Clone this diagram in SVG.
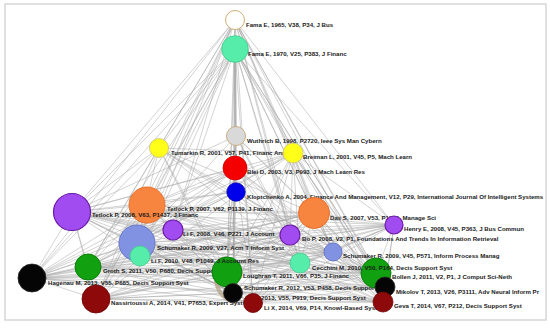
<svg xmlns="http://www.w3.org/2000/svg" width="550" height="328" viewBox="0 0 550 328">
<style>
.lb{font-family:"Liberation Sans",Arial,sans-serif;font-size:6.1px;font-weight:700;fill:#1a1a1a}
.e{fill:none;stroke:#a9a9a9;stroke-width:0.6;stroke-opacity:0.85}
.pu{fill:#a04cf0;stroke:#6c1aa8;stroke-width:1.2}
.or{fill:#f7843f;stroke:#e8722c;stroke-width:1}
.la{fill:#8192e2;stroke:#6877c4;stroke-width:1}
.aq{fill:#56eca9;stroke:#43c98d;stroke-width:0.8}
.gr{fill:#10a010;stroke:#0c800c;stroke-width:1}
.bk{fill:#050505;stroke:#2a2a2a;stroke-width:0.8}
.dr{fill:#8e0a0a;stroke:#6c0505;stroke-width:0.8}
.ye{fill:#ffff1a;stroke:#c8c07a;stroke-width:0.8}
</style>
<rect x="0" y="0" width="550" height="328" fill="#ffffff"/>
<rect x="5" y="4" width="541" height="316" fill="#ffffff" stroke="#d6d6d6" stroke-width="1.5"/>
<g id="connectors">
<path class="e" d="M235 20L72 212M235 20L32 278M235 20L88 267M235 20L96 299M235 20L147 205M235 20L137 243M235 20L140 256M235 20L173 230M235 20L159 148M235 20L227 272M235 20L233 293M235 20L253 303M235 20L300 263M235 20L290 235M235 20L333 252M235 20L314 213M235 20L394 225M235 20L376 273M235 20L385 287M235 20L383 302M235 20L293 153M235 20L236 136"/>
<path class="e" d="M235 49L72 212M235 49L32 278M235 49L88 267M235 49L96 299M235 49L147 205M235 49L137 243M235 49L140 256M235 49L173 230M235 49L159 148M235 49L227 272M235 49L233 293M235 49L253 303M235 49L300 263M235 49L290 235M235 49L333 252M235 49L314 213M235 49L394 225M235 49L376 273M235 49L385 287M235 49L383 302M235 49L293 153M235 49L236 136M235 49L235 168M235 49L236 192M234 49L234 272M236 49L236 168"/>
<path class="e" d="M32 278L72 212M32 278L147 205M32 278L137 243M32 278L88 267M32 278L96 299M32 278L173 230M32 278L140 256M32 278L227 272M32 278L233 293M32 278L253 303M32 278L300 263M32 278L290 235M32 278L333 252M32 278L314 213M32 278L394 225M32 278L376 273M32 278L385 287M32 278L383 302M32 278L159 148M32 278L235 168M32 278L236 192M32 278L293 153"/>
<path class="e" d="M72 212L147 205M72 212L137 243M72 212L173 230M72 212L88 267M72 212L96 299M72 212L140 256M72 212L227 272M72 212L233 293M72 212L253 303M72 212L300 263M72 212L290 235M72 212L333 252M72 212L314 213M72 212L394 225M72 212L376 273M72 212L385 287M72 212L383 302M72 212L159 148M72 212L293 153M72 212L235 168M72 212L236 192M72 212L236 136"/>
<path class="e" d="M147 205L173 230M147 205L137 243M147 205L140 256M147 205L88 267M147 205L96 299M147 205L227 272M147 205L233 293M147 205L253 303M147 205L300 263M147 205L290 235M147 205L333 252M147 205L314 213M147 205L394 225M147 205L376 273M147 205L385 287M147 205L383 302M147 205L293 153M147 205L235 168M147 205L236 192"/>
<path class="e" d="M159 148L137 243M159 148L88 267M159 148L96 299M159 148L227 272M159 148L233 293M159 148L300 263M159 148L290 235M159 148L314 213M159 148L376 273M159 148L385 287M159 148L293 153"/>
<path class="e" d="M293 153L137 243M293 153L88 267M293 153L96 299M293 153L227 272M293 153L233 293M293 153L253 303M293 153L300 263M293 153L290 235M293 153L333 252M293 153L314 213M293 153L394 225M293 153L376 273M293 153L385 287M293 153L383 302"/>
<path class="e" d="M235 168L137 243M235 168L88 267M235 168L96 299M235 168L227 272M235 168L233 293M235 168L253 303M235 168L300 263M235 168L290 235M235 168L376 273M235 168L385 287M235 168L383 302"/>
<path class="e" d="M236 192L137 243M236 192L88 267M236 192L227 272M236 192L233 293M236 192L300 263M236 192L376 273M236 192L385 287"/>
<path class="e" d="M236 136L137 243M236 136L227 272M236 136L233 293M236 136L300 263M236 136L376 273M236 136L290 235M236 136L314 213"/>
<path class="e" d="M137 243L88 267M137 243L96 299M137 243L227 272M137 243L233 293M137 243L253 303M137 243L300 263M137 243L290 235M137 243L333 252M137 243L314 213M137 243L394 225M137 243L376 273M137 243L385 287M137 243L383 302"/>
<path class="e" d="M88 267L96 299M88 267L227 272M88 267L233 293M88 267L253 303M88 267L300 263M88 267L290 235M88 267L333 252M88 267L314 213M88 267L394 225M88 267L376 273M88 267L385 287M88 267L383 302"/>
<path class="e" d="M96 299L227 272M96 299L233 293M96 299L253 303M96 299L300 263M96 299L290 235M96 299L333 252M96 299L314 213M96 299L394 225M96 299L376 273M96 299L385 287M96 299L383 302"/>
<path class="e" d="M173 230L227 272M173 230L233 293M173 230L300 263M173 230L290 235M173 230L333 252M173 230L314 213M173 230L394 225M173 230L376 273"/>
<path class="e" d="M140 256L227 272M140 256L233 293M140 256L300 263M140 256L290 235M140 256L333 252M140 256L314 213M140 256L376 273"/>
<path class="e" d="M227 272L233 293M227 272L253 303M227 272L300 263M227 272L290 235M227 272L333 252M227 272L314 213M227 272L394 225M227 272L376 273M227 272L385 287M227 272L383 302"/>
<path class="e" d="M233 293L253 303M233 293L300 263M233 293L333 252M233 293L314 213M233 293L394 225M233 293L376 273M233 293L385 287M233 293L383 302"/>
<path class="e" d="M253 303L300 263M253 303L376 273M253 303L385 287M253 303L383 302M253 303L314 213M253 303L394 225"/>
<path class="e" d="M300 263L290 235M300 263L333 252M300 263L314 213M300 263L394 225M300 263L376 273M300 263L385 287M300 263L383 302M290 235L333 252M290 235L314 213M290 235L394 225M290 235L376 273M290 235L385 287M290 235L383 302"/>
<path class="e" d="M333 252L314 213M333 252L394 225M333 252L376 273M333 252L385 287M333 252L383 302M314 213L394 225M314 213L376 273M314 213L385 287M314 213L383 302M394 225L376 273M394 225L385 287M394 225L383 302"/>
<path d="M216 280Q218 296 230 300" fill="none" stroke="#b3a385" stroke-width="4" stroke-opacity="0.75"/>
</g>
<g id="n-fama1965"><circle cx="235" cy="20" r="9.5" fill="#ffffff" stroke="#cfae74" stroke-width="1"/><text class="lb" x="246" y="27.2">Fama E, 1965, V38, P34, J Bus</text></g>
<g id="n-fama1970"><circle class="aq" cx="235" cy="49" r="13.3"/><text class="lb" x="248" y="56.2">Fama E, 1970, V25, P383, J Financ</text></g>
<g id="n-wuthrich"><circle cx="236" cy="136" r="9.5" fill="#d9d9d9" stroke="#c9ad83" stroke-width="1"/><text class="lb" x="247" y="143.2">Wuthrich B, 1998, P2720, Ieee Sys Man Cybern</text></g>
<g id="n-tumarkin"><circle class="ye" cx="159" cy="148" r="9.5"/><text class="lb" x="171" y="155.2">Tumarkin R, 2001, V57, P41, Financ Anal J</text></g>
<g id="n-breiman"><circle class="ye" cx="293" cy="153" r="10"/><text class="lb" x="303" y="159.2">Breiman L, 2001, V45, P5, Mach Learn</text></g>
<g id="n-blei"><circle cx="235" cy="168" r="12" fill="#f40000" stroke="#d00000" stroke-width="0.8"/><text class="lb" x="247" y="174.2">Blei D, 2003, V3, P993, J Mach Learn Res</text></g>
<g id="n-kloptchenko"><circle cx="236" cy="192" r="9.2" fill="#0000ea" stroke="#0000b0" stroke-width="0.8"/><text class="lb" x="247" y="199.2">Kloptchenko A, 2004, Finance And Management, V12, P29, International Journal Of Intelligent Systems</text></g>
<g id="n-tetlock2007"><circle class="or" cx="147" cy="205" r="18"/><text class="lb" x="167" y="211.2">Tetlock P, 2007, V62, P1139, J Financ</text></g>
<g id="n-tetlock2008"><circle class="pu" cx="72" cy="212" r="18.5"/><text class="lb" x="92" y="217.2">Tetlock P, 2008, V63, P1437, J Financ</text></g>
<g id="n-lif2008"><circle class="pu" cx="173" cy="230" r="10"/><text class="lb" x="183" y="236.2">Li F, 2008, V46, P221, J Account</text></g>
<g id="n-schumaker2009a"><circle class="la" cx="137" cy="243" r="18"/><text class="lb" x="157" y="250.2">Schumaker R, 2009, V27, Acm T Inform Syst</text></g>
<g id="n-das"><circle class="or" cx="314" cy="213" r="15.5"/><text class="lb" x="330" y="220.2">Das S, 2007, V53, P1375, Manage Sci</text></g>
<g id="n-henry"><circle class="pu" cx="394" cy="225" r="9"/><text class="lb" x="404" y="231.2">Henry E, 2008, V45, P363, J Bus Commun</text></g>
<g id="n-bop"><circle class="pu" cx="290" cy="235" r="10"/><text class="lb" x="302" y="241.2">Bo P, 2008, V2, P1, Foundations And Trends In Information Retrieval</text></g>
<g id="n-schumaker2009b"><circle class="la" cx="333" cy="252" r="9"/><text class="lb" x="343" y="258.2">Schumaker R, 2009, V45, P571, Inform Process Manag</text></g>
<g id="n-groth"><circle class="gr" cx="88" cy="267" r="13"/><text class="lb" x="103" y="273.2">Groth S, 2011, V50, P680, Decis Support Syst</text></g>
<g id="n-hagenau"><circle class="bk" cx="32" cy="278" r="14"/><text class="lb" x="48" y="285.2">Hagenau M, 2013, V55, P685, Decis Support Syst</text></g>
<g id="n-nassirtoussi"><circle class="dr" cx="96" cy="299" r="14"/><text class="lb" x="111" y="305.2">Nassirtoussi A, 2014, V41, P7653, Expert Syst Appl</text></g>
<g id="n-loughran"><circle class="gr" cx="227" cy="272" r="15"/><text class="lb" x="243" y="278.2">Loughran T, 2011, V66, P35, J Financ</text></g>
<g id="n-lif2010"><circle class="aq" cx="140" cy="256" r="10"/><text class="lb" x="151" y="263.2">Li F, 2010, V48, P1049, J Account Res</text></g>
<g id="t-2013"><text class="lb" x="261" y="300.2">2013, V55, P919, Decis Support Syst</text></g>
<g id="n-schumaker2012"><circle class="bk" cx="233" cy="293" r="9.5"/><text class="lb" x="244" y="290.2">Schumaker R, 2012, V53, P458, Decis Support Syst</text></g>
<g id="n-lix"><circle class="dr" cx="253" cy="303" r="9.5"/><text class="lb" x="264" y="310.2">Li X, 2014, V69, P14, Knowl-Based Syst</text></g>
<g id="n-bollen"><circle class="gr" cx="376" cy="273" r="15"/><text class="lb" x="392" y="279.2">Bollen J, 2011, V2, P1, J Comput Sci-Neth</text></g>
<g id="n-cecchini"><circle class="aq" cx="300" cy="263" r="10"/><text class="lb" x="312" y="270.2">Cecchini M, 2010, V50, P164, Decis Support Syst</text></g>
<g id="n-mikolov"><circle class="bk" cx="385" cy="287" r="10"/><text class="lb" x="396" y="294.2">Mikolov T, 2013, V26, P3111, Adv Neural Inform Pr</text></g>
<g id="n-geva"><circle class="dr" cx="383" cy="302" r="10"/><text class="lb" x="394" y="308.2">Geva T, 2014, V67, P212, Decis Support Syst</text></g>
</svg>
